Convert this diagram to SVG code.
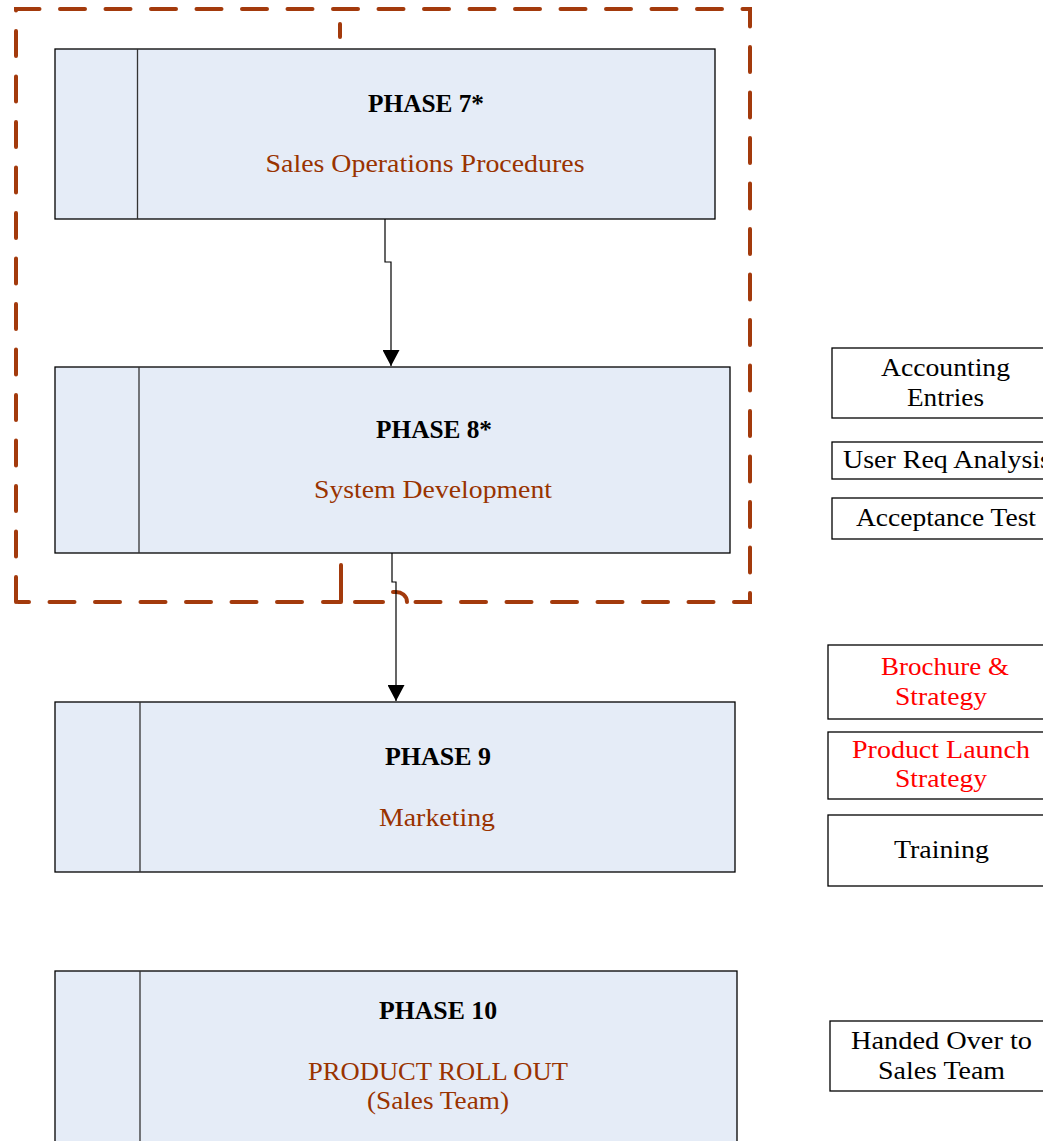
<svg xmlns="http://www.w3.org/2000/svg" width="1043" height="1141" viewBox="0 0 1043 1141">
<defs>
<style>
text{font-family:"Liberation Serif","Times New Roman",serif;font-size:26px;}
.ph{fill:#E5ECF7;stroke:#000;stroke-width:1.3;}
.div{stroke:#333;stroke-width:1.3;fill:none;}
.t{fill:#000;font-weight:bold;text-anchor:middle;}
.s{fill:#993300;text-anchor:middle;}
.side{fill:#fff;stroke:#000;stroke-width:1.3;}
.st{fill:#000;text-anchor:middle;}
.red{fill:#FF0000;text-anchor:middle;}
.dash{fill:none;stroke:#A33A0C;stroke-width:4;stroke-dasharray:25 20.5;stroke-linecap:round;}
.solid{fill:none;stroke:#A33A0C;stroke-width:4;stroke-linecap:round;stroke-linejoin:round;}
.conn{fill:none;stroke:#000;stroke-width:1.2;}
</style>
<marker id="arr" markerWidth="16" markerHeight="17" refX="16" refY="8.5" orient="auto" markerUnits="userSpaceOnUse" viewBox="0 0 16 17">
<path d="M0,0 L16,8.5 L0,17 Z" fill="#000"/>
</marker>
</defs>
<rect width="1043" height="1141" fill="#fff"/>

<g id="group-boundary">
<path class="dash" d="M16,602 L16,9 L750,9 L750,602 L410,602"/>
<path class="dash" d="M302,602 L18,602"/>
<path class="solid" d="M407,602 A11,10 0 0 0 395,592 L393,592"/>
<path class="solid" d="M340,24 L340,37"/>
<path class="solid" d="M323,602 L341,602 L341,565"/>
<path class="solid" d="M355,602 L383,602"/>
</g>

<g id="phase7">
<rect class="ph" x="55" y="49" width="660" height="170"/>
<line class="div" x1="137.5" y1="49" x2="137.5" y2="219"/>
<text class="t" x="426" y="112" textLength="116" lengthAdjust="spacingAndGlyphs">PHASE 7*</text>
<text class="s" x="425" y="172" textLength="319" lengthAdjust="spacingAndGlyphs">Sales Operations Procedures</text>
</g>

<g id="phase8">
<rect class="ph" x="55" y="367" width="675" height="186"/>
<line class="div" x1="139" y1="367" x2="139" y2="553"/>
<text class="t" x="434" y="438" textLength="116" lengthAdjust="spacingAndGlyphs">PHASE 8*</text>
<text class="s" x="433" y="498" textLength="238" lengthAdjust="spacingAndGlyphs">System Development</text>
</g>

<g id="phase9">
<rect class="ph" x="55" y="702" width="680" height="170"/>
<line class="div" x1="140" y1="702" x2="140" y2="872"/>
<text class="t" x="438" y="765" textLength="106" lengthAdjust="spacingAndGlyphs">PHASE 9</text>
<text class="s" x="437" y="826" textLength="116" lengthAdjust="spacingAndGlyphs">Marketing</text>
</g>

<g id="phase10">
<rect class="ph" x="55" y="971" width="682" height="180"/>
<line class="div" x1="140" y1="971" x2="140" y2="1141"/>
<text class="t" x="438" y="1019" textLength="118" lengthAdjust="spacingAndGlyphs">PHASE 10</text>
<text class="s" x="438" y="1080" textLength="260" lengthAdjust="spacingAndGlyphs">PRODUCT ROLL OUT</text>
<text class="s" x="438" y="1109" textLength="142" lengthAdjust="spacingAndGlyphs">(Sales Team)</text>
</g>

<g id="accounting-entries">
<rect class="side" x="832" y="348" width="230" height="70"/>
<text class="st" x="945.5" y="376" textLength="129" lengthAdjust="spacingAndGlyphs">Accounting</text>
<text class="st" x="945.5" y="406" textLength="77" lengthAdjust="spacingAndGlyphs">Entries</text>
</g>

<g id="user-req-analysis">
<rect class="side" x="832" y="442" width="230" height="37"/>
<text class="st" x="947" y="468" textLength="208" lengthAdjust="spacingAndGlyphs">User Req Analysis</text>
</g>

<g id="acceptance-test">
<rect class="side" x="832" y="498" width="230" height="41"/>
<text class="st" x="946" y="526" textLength="180" lengthAdjust="spacingAndGlyphs">Acceptance Test</text>
</g>

<g id="brochure-strategy">
<rect class="side" x="828" y="645" width="230" height="74"/>
<text class="red" x="945" y="675" textLength="128" lengthAdjust="spacingAndGlyphs">Brochure &amp;</text>
<text class="red" x="941" y="705" textLength="92" lengthAdjust="spacingAndGlyphs">Strategy</text>
</g>

<g id="product-launch-strategy">
<rect class="side" x="828" y="732" width="230" height="67"/>
<text class="red" x="941" y="758" textLength="178" lengthAdjust="spacingAndGlyphs">Product Launch</text>
<text class="red" x="941" y="787" textLength="92" lengthAdjust="spacingAndGlyphs">Strategy</text>
</g>

<g id="training">
<rect class="side" x="828" y="815" width="230" height="71"/>
<text class="st" x="941.5" y="858" textLength="95" lengthAdjust="spacingAndGlyphs">Training</text>
</g>

<g id="handed-over">
<rect class="side" x="830" y="1021" width="230" height="70"/>
<text class="st" x="941.5" y="1049" textLength="181" lengthAdjust="spacingAndGlyphs">Handed Over to</text>
<text class="st" x="941.5" y="1079" textLength="127" lengthAdjust="spacingAndGlyphs">Sales Team</text>
</g>

<g id="connectors">
<path class="conn" d="M385,219 L385,262 L391,262 L391,366" marker-end="url(#arr)"/>
<path class="conn" d="M392,553 L392,582 L396,582 L396,701" marker-end="url(#arr)"/>
</g>
</svg>
